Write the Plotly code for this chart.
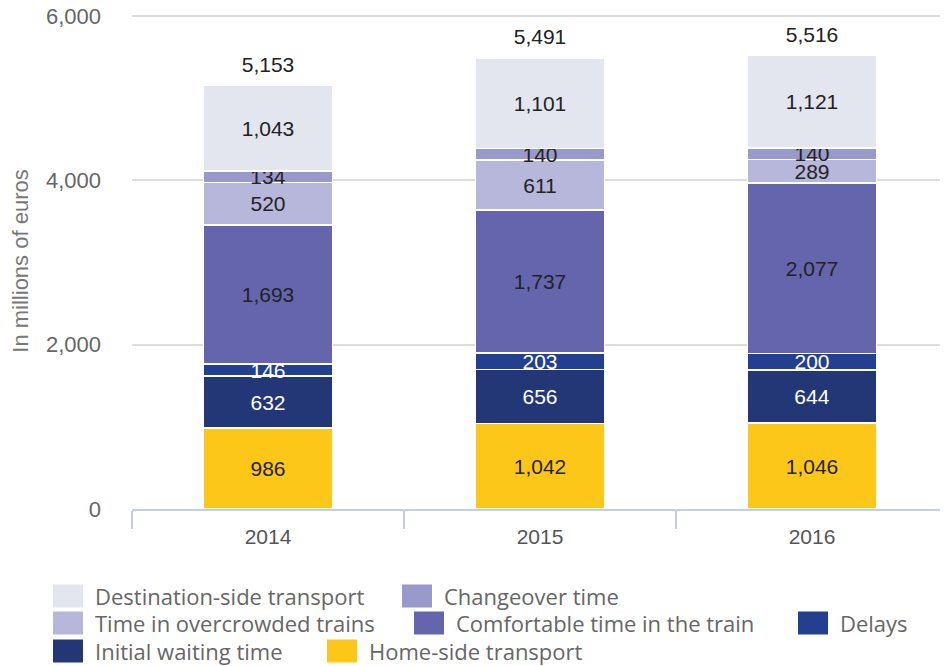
import plotly.graph_objects as go

years = ["2014", "2015", "2016"]

home_side = [986, 1042, 1046]
initial_waiting = [632, 656, 644]
delays = [146, 203, 200]
comfortable = [1693, 1737, 2077]
overcrowded = [520, 611, 289]
changeover = [134, 140, 140]
destination = [1043, 1101, 1121]
totals = [5153, 5491, 5516]

# stacking order, bottom to top: name, values, fill, label colour
series = [
    ("Home-side transport", home_side, "#fdc71a", "#222222"),
    ("Initial waiting time", initial_waiting, "#233777", "#ffffff"),
    ("Delays", delays, "#22408f", "#ffffff"),
    ("Comfortable time in the train", comfortable, "#6565ad", "#222222"),
    ("Time in overcrowded trains", overcrowded, "#b7b6db", "#222222"),
    ("Changeover time", changeover, "#9a99cb", "#222222"),
    ("Destination-side transport", destination, "#e3e6ef", "#222222"),
]

# the page body has an 8px margin, so the figure is a bit smaller than the window
OFF = 8
W, H = 948 - OFF, 666 - OFF
# y range goes a hair past 6,000 so its gridline isn't dropped at the plot edge
YMAX = 6037
L, R, T, B = 132 - OFF, 0, 13 - OFF, 157
PW, PH = W - L - R, H - T - B

fig = go.Figure()
for name, vals, color, tcolor in series:
    fig.add_trace(
        go.Bar(
            name=name,
            x=years,
            y=vals,
            marker=dict(color=color, line=dict(color="white", width=1.5)),
            text=[f"{v:,}" for v in vals],
            textposition="inside",
            insidetextanchor="middle",
            textangle=0,
            insidetextfont=dict(color=tcolor, size=21, family="Liberation Sans, Arial"),
            showlegend=False,
        )
    )

# totals above the bars (invisible marker just pushes the text up a bit)
fig.add_trace(
    go.Scatter(
        x=years,
        y=totals,
        mode="markers+text",
        marker=dict(size=12, opacity=0),
        text=[f"{v:,}" for v in totals],
        textposition="top center",
        textfont=dict(size=21, color="#222222", family="Liberation Sans, Arial"),
        showlegend=False,
        hoverinfo="skip",
    )
)

# hand-made legend (big rectangular swatches, flowing rows like the original)
# positions in window pixels: swatch left edge, row centre
legend_pos = {
    "Destination-side transport": (53, 596),
    "Changeover time": (402, 596),
    "Time in overcrowded trains": (53, 623),
    "Comfortable time in the train": (414, 623),
    "Delays": (798, 623),
    "Initial waiting time": (53, 651),
    "Home-side transport": (327, 651),
}


def px_x(px):
    return (px - OFF - L) / PW


def px_y(py):
    return (H - B - (py - OFF)) / PH


shapes = []
annotations = []
for name, vals, color, tcolor in series:
    sx, sy = legend_pos[name]
    shapes.append(
        dict(
            type="rect", xref="paper", yref="paper",
            x0=px_x(sx), x1=px_x(sx + 30), y0=px_y(sy + 11.5), y1=px_y(sy - 11.5),
            fillcolor=color, line=dict(width=0),
        )
    )
    annotations.append(
        dict(
            text=name, xref="paper", yref="paper",
            x=px_x(sx + 40), y=px_y(sy), xanchor="left", yanchor="middle",
            showarrow=False, font=dict(size=22, color="#666666", family="Open Sans"),
        )
    )

fig.update_layout(
    barmode="stack",
    bargap=0.526,
    width=W,
    height=H,
    margin=dict(l=L, r=R, t=T, b=B, autoexpand=False),
    plot_bgcolor="white",
    paper_bgcolor="white",
    showlegend=False,
    uniformtext=dict(minsize=21, mode="show"),
    font=dict(family="Liberation Sans, Arial", color="#666666"),
    shapes=shapes,
    annotations=annotations,
    xaxis=dict(
        showline=True,
        linecolor="#c3d0e0",
        linewidth=2,
        ticks="outside",
        tickson="boundaries",
        ticklen=18,
        tickcolor="#c3d0e0",
        tickwidth=2,
        ticklabelstandoff=8,
        tickfont=dict(size=21, color="#555555"),
        showgrid=False,
    ),
    yaxis=dict(
        range=[0, YMAX],
        tickvals=[0, 2000, 4000, 6000],
        tickformat=",",
        showgrid=True,
        gridcolor="#dddddd",
        gridwidth=2,
        zeroline=False,
        ticklabeloverflow="allow",
        tickfont=dict(size=22, color="#666666"),
        ticklabelstandoff=30,
        title=dict(text="In millions of euros", font=dict(size=22, color="#777777"), standoff=14),
    ),
)

fig.write_html("out.html")
